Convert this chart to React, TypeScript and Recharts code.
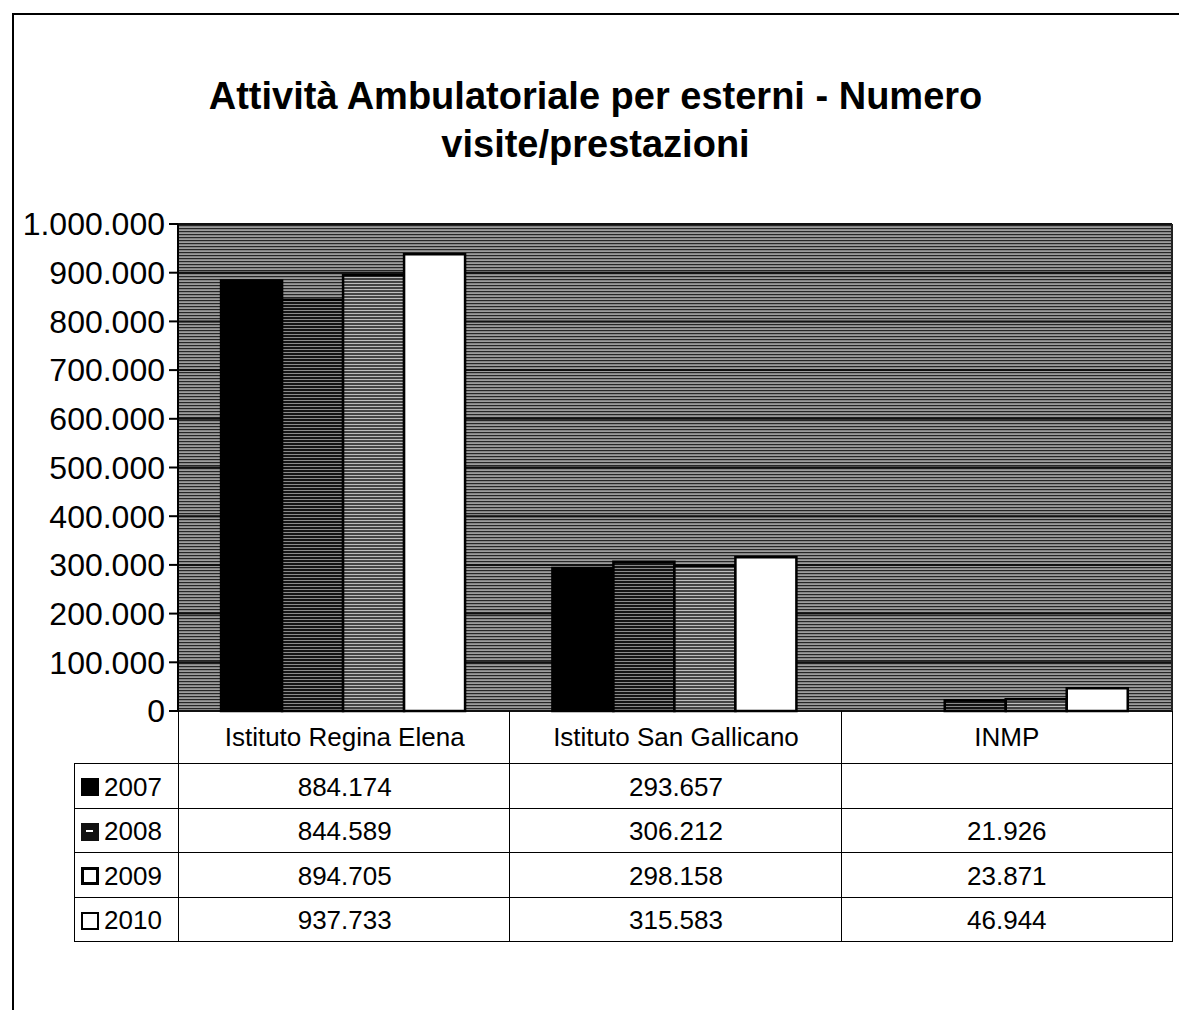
import React from "react";
import { BarChart, Bar, XAxis, YAxis, CartesianGrid } from "recharts";

const categories = ["Istituto Regina Elena", "Istituto San Gallicano", "INMP"];
const years = ["2007", "2008", "2009", "2010"];
const v2007 = [884174, 293657, null];
const v2008 = [844589, 306212, 21926];
const v2009 = [894705, 298158, 23871];
const v2010 = [937733, 315583, 46944];
const yTicks = [0, 100000, 200000, 300000, 400000, 500000, 600000, 700000, 800000, 900000, 1000000];

const series = [v2007, v2008, v2009, v2010];

const data = categories.map((c, i) => ({
  name: c,
  y2007: v2007[i],
  y2008: v2008[i],
  y2009: v2009[i],
  y2010: v2010[i],
}));

const fmt = (n: number | null) =>
  n == null ? "" : String(n).replace(/\B(?=(\d{3})+(?!\d))/g, ".");

const fills = ["#000", "url(#tex2008)", "url(#tex2009)", "#fff"];

// layout
const PLOT_L = 178;
const PLOT_R = 1172;
const PLOT_T = 224;
const PLOT_B = 711;
const ROW_H = 44.5;
const HEAD_H = 52;
const LEG_L = 74;
const FONT = "'Liberation Sans', Arial, sans-serif";

function LegendKey({ idx }: { idx: number }) {
  const base: React.CSSProperties = {
    display: "inline-block",
    width: 18,
    height: 18,
    boxSizing: "border-box",
    marginRight: 5,
    position: "relative",
    verticalAlign: "-1px",
  };
  if (idx === 0) return <span style={{ ...base, background: "#000" }} />;
  if (idx === 1)
    return (
      <span style={{ ...base, background: "#111" }}>
        <span style={{ position: "absolute", left: 5, top: 7, width: 7, height: 2, background: "#fff" }} />
      </span>
    );
  if (idx === 2) return <span style={{ ...base, background: "#fff", border: "3px solid #000" }} />;
  return <span style={{ ...base, background: "#fff", border: "2px solid #000" }} />;
}

export default function App() {
  const colW = (PLOT_R - PLOT_L) / categories.length;
  const cell: React.CSSProperties = {
    position: "absolute",
    boxSizing: "border-box",
    display: "flex",
    alignItems: "center",
    justifyContent: "center",
    fontFamily: FONT,
    fontSize: 26,
    color: "#000",
  };
  return (
    <div style={{ position: "absolute", left: 0, top: 0, width: 1179, height: 1010, background: "#fff", overflow: "hidden" }}>
      <svg width={0} height={0} style={{ position: "absolute" }}>
        <defs>
          <pattern id="bgTex" width="6" height="3" patternUnits="userSpaceOnUse">
            <rect width="6" height="3" fill="#9c9c9c" />
            <rect y="0" width="6" height="1.2" fill="#262626" />
          </pattern>
          <pattern id="tex2008" width="6" height="3" patternUnits="userSpaceOnUse">
            <rect width="6" height="3" fill="#141414" />
            <rect y="1" width="6" height="1" fill="#8a8a8a" />
          </pattern>
          <pattern id="tex2009" width="6" height="3" patternUnits="userSpaceOnUse">
            <rect width="6" height="3" fill="#444" />
            <rect y="1" width="6" height="1" fill="#bdbdbd" />
          </pattern>
        </defs>
      </svg>

      {/* outer frame */}
      <div style={{ position: "absolute", left: 12, top: 13, width: 1200, height: 1100, borderTop: "2px solid #000", borderLeft: "2px solid #000" }} />

      <div
        style={{
          position: "absolute",
          left: 12,
          width: 1167,
          top: 72,
          textAlign: "center",
          fontFamily: FONT,
          fontWeight: "bold",
          fontSize: 38,
          lineHeight: "48px",
          color: "#000",
        }}
      >
        Attività Ambulatoriale per esterni - Numero
        <br />
        visite/prestazioni
      </div>

      <div style={{ position: "absolute", left: 0, top: 0 }}>
        <BarChart
          width={1179}
          height={1010}
          data={data}
          margin={{ top: PLOT_T, right: 1179 - PLOT_R, bottom: 1010 - PLOT_B, left: 0 }}
          barCategoryGap="13%"
          barGap={0}
        >
          <CartesianGrid vertical={false} stroke="#111" strokeWidth={2} fill="url(#bgTex)" fillOpacity={1} />
          <XAxis dataKey="name" height={0} tick={false} tickLine={false} axisLine={{ stroke: "#000", strokeWidth: 2 }} />
          <YAxis
            width={PLOT_L}
            domain={[0, 1000000]}
            ticks={yTicks}
            interval={0}
            tickFormatter={(v: number) => fmt(v)}
            tick={{ fill: "#000", fontSize: 32, fontFamily: FONT }}
            tickSize={9}
            tickMargin={4}
            tickLine={{ stroke: "#000", strokeWidth: 2 }}
            axisLine={{ stroke: "#000", strokeWidth: 2 }}
          />
          {years.map((y, i) => (
            <Bar
              key={y}
              dataKey={"y" + y}
              name={y}
              fill={fills[i]}
              stroke="#000"
              strokeWidth={2.5}
              isAnimationActive={false}
            />
          ))}
        </BarChart>
      </div>

      {/* right edge of plot */}
      <div style={{ position: "absolute", left: PLOT_R - 1, top: PLOT_T, width: 2, height: PLOT_B - PLOT_T, background: "#222" }} />

      {/* data table header */}
      {categories.map((c, i) => (
        <div
          key={c}
          style={{
            ...cell,
            left: PLOT_L + i * colW,
            top: PLOT_B,
            width: colW + 1,
            height: HEAD_H + 1,
            borderLeft: "1.5px solid #000",
            borderRight: i === categories.length - 1 ? "1.5px solid #000" : undefined,
            borderBottom: "1.5px solid #000",
            fontSize: 26,
          }}
        >
          {c}
        </div>
      ))}

      {/* data table rows */}
      {years.map((y, r) => (
        <React.Fragment key={y}>
          <div
            style={{
              ...cell,
              left: LEG_L,
              top: PLOT_B + HEAD_H + r * ROW_H,
              width: PLOT_L - LEG_L + 1,
              height: ROW_H + 1,
              border: "1.5px solid #000",
              justifyContent: "flex-start",
              paddingLeft: 6,
              paddingTop: 3,
            }}
          >
            <LegendKey idx={r} />
            {y}
          </div>
          {categories.map((c, i) => (
            <div
              key={c}
              style={{
                ...cell,
                left: PLOT_L + i * colW,
                top: PLOT_B + HEAD_H + r * ROW_H,
                width: colW + 1,
                height: ROW_H + 1,
                borderLeft: "1.5px solid #000",
                borderRight: i === categories.length - 1 ? "1.5px solid #000" : undefined,
                borderBottom: "1.5px solid #000",
                paddingTop: 4,
              }}
            >
              {fmt(series[r][i])}
            </div>
          ))}
        </React.Fragment>
      ))}
    </div>
  );
}
